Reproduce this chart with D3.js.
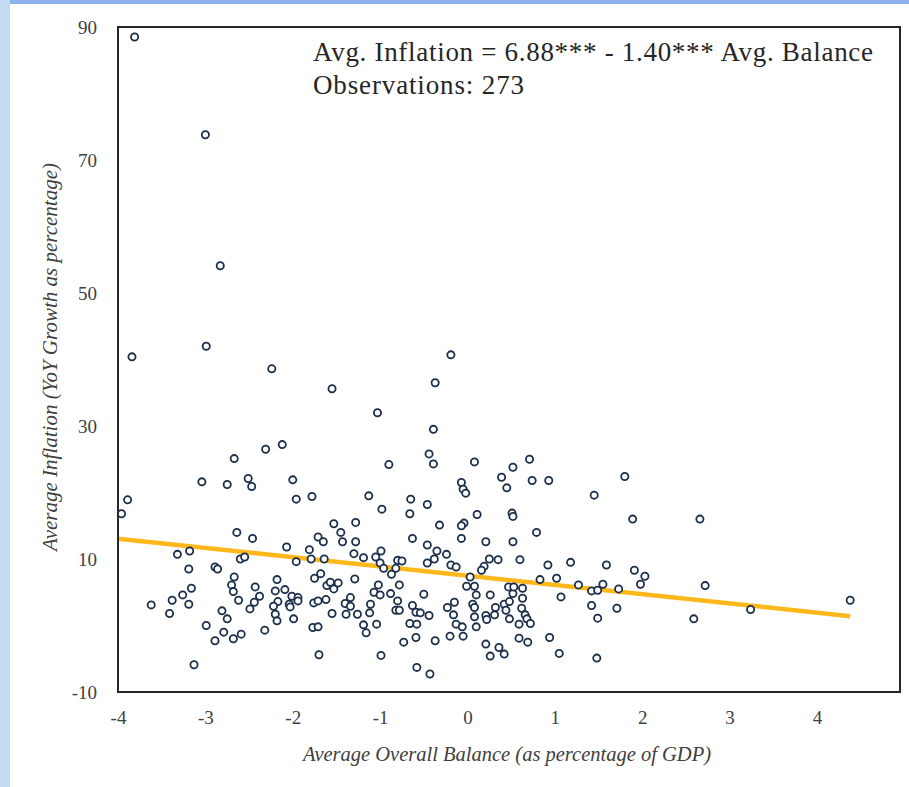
<!DOCTYPE html>
<html>
<head>
<meta charset="utf-8">
<script src="https://cdn.jsdelivr.net/npm/d3@7"></script>
<style>
  body { margin: 0; background: #fff; }
  svg { display: block; }
</style>
</head>
<body>
<svg id="svg" width="909" height="787"></svg>
<script>
// balance (x, % of GDP) and inflation (y, %) per observation
var balance = [
  -3.81, -3.00, -2.83, -2.99, -3.84, -2.24,
  -3.89, -3.96, -3.04, -2.67, -2.31, -2.12, -2.75, -2.51, -2.47, -2.00,
  -1.96, -1.78, -1.53, -1.45, -1.43, -1.71, -1.65, -2.64, -2.46, -2.07,
  -1.81, -1.79, -1.64, -1.96, -3.32, -3.18, -2.60, -2.55, -3.19, -2.89,
  -2.86, -2.67, -2.70, -2.68, -2.62, -2.43, -2.38, -2.44, -2.49, -2.18,
  -2.20, -2.09, -2.01, -1.94, -1.94, -2.04, -2.03, -2.17, -2.22, -2.20,
  -2.18, -1.99, -2.32, -1.75, -1.68, -1.61, -1.57, -1.53, -1.48, -1.76,
  -1.71, -1.62, -1.55, -1.40, -1.39, -1.77, -1.71, -1.70, -3.62, -3.38,
  -3.26, -3.16, -3.19, -3.41, -2.81, -2.75, -2.99, -2.79, -2.89, -2.68,
  -2.59, -3.13,
  -0.19, -0.37, -1.55, -1.03, -0.39, -0.44, -0.39, -0.90, 0.08, 0.71,
  0.52, 0.39, 0.74, 0.93, 0.45, -0.07, -0.05, -0.02, -1.13, -0.98,
  -0.65, -0.66, -0.46, 0.11, 0.51, 0.52, 0.79, -0.04, -0.07, -0.07,
  -0.32, -0.63, 0.21, 0.52, -1.28, -1.28, -1.30, -1.19, -1.05, -0.99,
  -1.00, -0.96, -0.80, -0.75, -0.82, -0.46, -0.46, -0.35, -0.38, -0.24,
  -0.19, -0.13, 0.25, 0.35, 0.19, 0.16, 0.60, 0.92, 0.83, 1.02,
  -1.29, -0.87, -0.78, -1.02, -1.07, -1.00, -1.11, -1.12, -1.19, -1.16,
  -1.04, -1.34, -1.34, -1.26, -0.88, -0.80, -0.82, -0.78, -0.63, -0.59,
  -0.54, -0.44, -0.50, -0.66, -0.58, -0.73, -0.59, -0.37, -0.99, -0.58,
  -0.43, -0.23, -0.15, -0.16, -0.13, -0.06, -0.20, -0.05, -0.01, 0.03,
  0.08, 0.10, 0.06, 0.08, 0.08, 0.10, 0.26, 0.21, 0.22, 0.32,
  0.31, 0.42, 0.48, 0.44, 0.48, 0.52, 0.47, 0.53, 0.63, 0.63,
  0.62, 0.66, 0.68, 0.72, 0.59, 0.59, 0.69, 0.21, 0.26, 0.36,
  0.42, 0.94, 1.05, 1.07,
  1.80, 1.45, 1.89, 2.66, 1.18, 1.59, 1.91, 2.03, 1.98, 1.27,
  1.42, 1.49, 1.55, 1.73, 1.42, 1.71, 1.49, 2.59, 2.72, 3.24,
  1.48, 4.38
];
var inflation = [
  88.5, 73.8, 54.1, 42.0, 40.4, 38.6,
  18.9, 16.8, 21.6, 25.1, 26.5, 27.2, 21.2, 22.1, 20.9, 21.9,
  19.0, 19.4, 15.3, 14.0, 12.6, 13.3, 12.6, 14.0, 13.1, 11.8,
  11.4, 10.0, 10.0, 9.6, 10.7, 11.2, 10.0, 10.3, 8.5, 8.8,
  8.5, 7.3, 6.1, 5.1, 3.8, 5.8, 4.4, 3.5, 2.5, 6.9,
  5.2, 5.4, 4.4, 4.2, 3.7, 3.2, 2.8, 3.6, 2.9, 1.7,
  0.7, 1.0, -0.7, 7.1, 7.8, 6.0, 6.5, 5.5, 6.4, 3.4,
  3.7, 3.9, 1.8, 3.3, 1.7, -0.3, -0.2, -4.4, 3.1, 3.8,
  4.6, 5.6, 3.2, 1.8, 2.2, 1.0, 0.0, -1.0, -2.3, -2.0,
  -1.3, -5.9,
  40.7, 36.5, 35.6, 32.0, 29.5, 25.8, 24.3, 24.2, 24.6, 25.0,
  23.8, 22.3, 21.8, 21.8, 20.7, 21.5, 20.5, 19.9, 19.5, 17.5,
  19.0, 16.8, 18.2, 16.7, 16.9, 16.4, 14.0, 15.4, 15.0, 13.1,
  15.1, 13.1, 12.6, 12.6, 15.5, 12.6, 10.8, 10.2, 10.3, 11.2,
  9.4, 8.6, 9.8, 9.7, 8.6, 12.1, 9.4, 11.2, 10.0, 10.7,
  9.1, 8.8, 10.0, 9.9, 8.9, 8.3, 9.9, 9.1, 6.9, 7.1,
  7.0, 7.7, 6.1, 6.1, 5.0, 4.6, 3.2, 1.9, 0.1, -1.1,
  0.2, 4.2, 2.9, 1.7, 4.8, 3.7, 2.3, 2.3, 3.0, 2.0,
  1.9, 1.5, 4.7, 0.3, 0.2, -2.5, -1.8, -2.3, -4.5, -6.3,
  -7.3, 2.7, 3.5, 1.6, 0.2, -0.2, -1.6, -1.6, 5.9, 7.3,
  5.9, 4.6, 3.2, 2.7, 1.3, -0.2, 4.6, 1.5, 0.9, 2.7,
  1.6, 3.2, 3.6, 2.3, 1.0, 4.8, 5.8, 5.8, 5.6, 4.1,
  2.6, 1.6, 1.0, 0.3, 0.2, -1.9, -2.5, -2.8, -4.6, -3.3,
  -4.3, -1.8, -4.2, 4.3,
  22.4, 19.6, 16.0, 16.0, 9.5, 9.1, 8.3, 7.4, 6.2, 6.1,
  5.2, 5.3, 6.2, 5.5, 3.0, 2.6, 1.1, 1.0, 6.0, 2.4,
  -4.9, 3.8
];

// fitted line as drawn on the chart
var fitX = [-4, 4.38];
var fitY = [13.05, 1.4];

var xTicks = [-4, -3, -2, -1, 0, 1, 2, 3, 4];
var yTicks = [-10, 10, 30, 50, 70, 90];

var eqText = "Avg. Inflation = 6.88*** - 1.40*** Avg. Balance";
var obsText = "Observations: 273";

var svg = d3.select("#svg");

// page decoration strips
svg.append("rect").attr("x", 0).attr("y", 0).attr("width", 909).attr("height", 4).attr("fill", "#8db4ea");
svg.append("rect").attr("x", 0).attr("y", 0).attr("width", 10).attr("height", 787).attr("fill", "#c5daf5");

var plotLeft = 118, plotRight = 900, plotTop = 27, plotBottom = 692;

var x = d3.scaleLinear().domain([-4, 4.95]).range([plotLeft, plotRight]);
var y = d3.scaleLinear().domain([-10, 90]).range([plotBottom, plotTop]);

var serif = "'Liberation Serif', 'DejaVu Serif', serif";

// axes (labels only, no tick marks)
var xAxis = d3.axisBottom(x).tickValues(xTicks).tickSize(0).tickPadding(19)
  .tickFormat(String);
svg.append("g").attr("transform", "translate(0," + plotBottom + ")").call(xAxis)
  .call(function(g) { g.select(".domain").remove(); })
  .selectAll("text").attr("font-family", serif).attr("font-size", 19).attr("fill", "#404040");

var yAxis = d3.axisLeft(y).tickValues(yTicks).tickSize(0).tickPadding(21)
  .tickFormat(String);
svg.append("g").attr("transform", "translate(" + plotLeft + ",0)").call(yAxis)
  .call(function(g) { g.select(".domain").remove(); })
  .selectAll("text").attr("font-family", serif).attr("font-size", 19).attr("fill", "#404040");

// regression line
svg.append("line")
  .attr("x1", x(fitX[0])).attr("y1", y(fitY[0]))
  .attr("x2", x(fitX[1])).attr("y2", y(fitY[1]))
  .attr("stroke", "#ffb81c").attr("stroke-width", 4.5);

// points
svg.append("g").selectAll("circle")
  .data(d3.range(balance.length))
  .join("circle")
  .attr("cx", function(i) { return x(balance[i]); })
  .attr("cy", function(i) { return y(inflation[i]); })
  .attr("r", 3.6)
  .attr("fill", "#fff")
  .attr("stroke", "#1b2f4b")
  .attr("stroke-width", 1.8);

// plot frame
svg.append("rect")
  .attr("x", plotLeft).attr("y", plotTop)
  .attr("width", plotRight - plotLeft).attr("height", plotBottom - plotTop)
  .attr("fill", "none").attr("stroke", "#262626").attr("stroke-width", 2);

// annotation
svg.append("text").attr("x", 313).attr("y", 61)
  .attr("font-family", serif).attr("font-size", 27).attr("fill", "#262626")
  .attr("textLength", 560).attr("lengthAdjust", "spacing")
  .text(eqText);
svg.append("text").attr("x", 313).attr("y", 94)
  .attr("font-family", serif).attr("font-size", 27).attr("fill", "#262626")
  .attr("textLength", 211).attr("lengthAdjust", "spacing")
  .text(obsText);

// axis titles
svg.append("text")
  .attr("x", 507).attr("y", 761).attr("text-anchor", "middle")
  .attr("font-family", serif).attr("font-style", "italic").attr("font-size", 20.5)
  .attr("fill", "#404040")
  .text("Average Overall Balance (as percentage of GDP)");

svg.append("text")
  .attr("transform", "translate(57,357) rotate(-90)").attr("text-anchor", "middle")
  .attr("font-family", serif).attr("font-style", "italic").attr("font-size", 21)
  .attr("fill", "#404040")
  .text("Average Inflation (YoY Growth as percentage)");
</script>
</body>
</html>
